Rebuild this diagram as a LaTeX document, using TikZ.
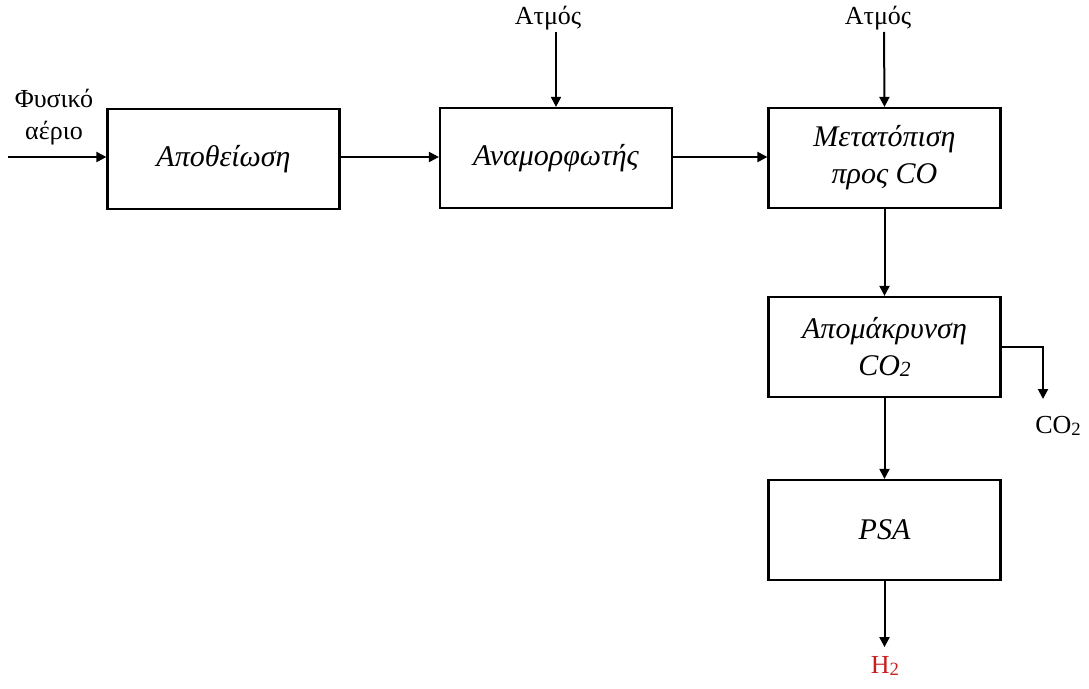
\documentclass[tikz,border=0pt]{standalone}
\usepackage{fontspec}
\setmainfont{Liberation Serif}
\usetikzlibrary{arrows.meta}
\definecolor{hred}{RGB}{200,30,30}
\newcommand{\subtwo}{\raisebox{-0.05em}{\scalebox{0.72}{2}}}
\begin{document}
\begin{tikzpicture}[x=1pt,y=-1pt,
  unit/.style={draw,line width=2.2pt,minimum width=232pt,minimum height=100pt,
    align=center,inner sep=0pt,font=\fontsize{30}{37}\selectfont\itshape},
  lbl/.style={inner sep=0pt,font=\fontsize{26}{32}\selectfont,align=center},
  flow/.style={line width=2pt,-{Triangle[length=10pt,width=10pt]}}]
\useasboundingbox (0,0) rectangle (1089,688);
% process units
\node[unit] (des) at (223.5,159) {Αποθείωση};
\node[unit] (ref) at (556,158) {Αναμορφωτής};
\node[unit] (shift) at (884.5,158) {Μετατόπιση\\προς CO};
\node[unit] (rem) at (884.5,347) {Απομάκρυνση\\CO\subtwo};
\node[unit] (psa) at (884.5,530) {PSA};
% feeds and products
\node[lbl] (gas) at (54,117) {Φυσικό\\αέριο};
\coordinate (gin) at (8,157);
\node[lbl] (st1) at (548,18) {Ατμός};
\node[lbl] (st2) at (878,18) {Ατμός};
\coordinate (s1) at (556,32);
\coordinate (s2) at (884,32);
\node[lbl] (co2) at (1058,426) {CO\subtwo};
\node[lbl,text=hred] (h2) at (885,666) {H\subtwo};
\coordinate (br) at (1043,347);
% streams
\draw[flow] (gin) -- (gin -| des.west);
\draw[flow] (des.east |- 0,157) -- (ref.west |- 0,157);
\draw[flow] (ref.east |- 0,157) -- (shift.west |- 0,157);
\draw[flow] (s1) -- (ref.north);
\draw[flow] (s2) -- (shift.north);
\draw[flow] (shift.south) -- (rem.north);
\draw[flow] (rem.south) -- (psa.north);
\draw[flow] (psa.south) -- ++(0,66);
\draw[flow] (rem.east) -- (br) -- ++(0,52);
\end{tikzpicture}
\end{document}
